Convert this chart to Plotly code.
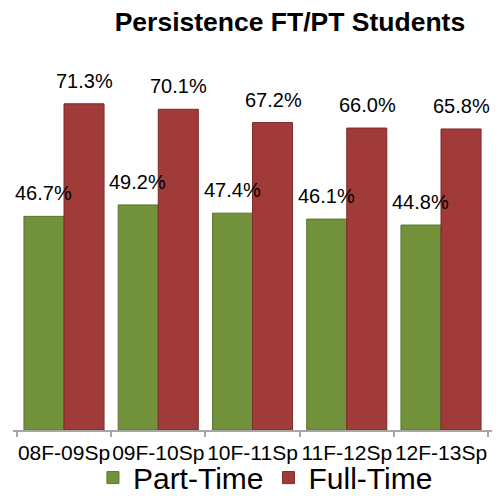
import plotly.graph_objects as go

categories = ["08F-09Sp", "09F-10Sp", "10F-11Sp", "11F-12Sp", "12F-13Sp"]
part_time = [46.7, 49.2, 47.4, 46.1, 44.8]
full_time = [71.3, 70.1, 67.2, 66.0, 65.8]

FONT = "Liberation Sans, Arial, sans-serif"
GREEN = "#71913a"
RED = "#a03b3a"

fig = go.Figure()
fig.add_trace(go.Bar(name="Part-Time", x=categories, y=part_time,
                     marker=dict(color=GREEN, line=dict(color="#5a7530", width=1))))
fig.add_trace(go.Bar(name="Full-Time", x=categories, y=full_time,
                     marker=dict(color=RED, line=dict(color="#7d2a29", width=1))))

for vals, shift in ((part_time, -20.5), (full_time, 20.5)):
    for c, v in zip(categories, vals):
        fig.add_annotation(x=c, y=v, text=f"{v:.1f}%", showarrow=False,
                           xshift=shift, yshift=23, yanchor="middle",
                           font=dict(family=FONT, size=20, color="#000"))

# page body adds an 8px offset; figure sized to fill the visible window
fig.update_layout(
    width=492, height=488,
    margin=dict(l=5, r=8, t=56, b=66, autoexpand=False),
    paper_bgcolor="white", plot_bgcolor="white",
    barmode="group", bargap=0.15, bargroupgap=0,
    title=dict(text="<b>Persistence FT/PT Students</b>", x=0.573, xanchor="center",
               y=0.971, yanchor="middle", font=dict(family=FONT, size=26.5, color="#000")),
    showlegend=True,
    legend=dict(orientation="h", x=0.527, xanchor="center", y=-0.13, yanchor="middle",
                bgcolor="rgba(0,0,0,0)", borderwidth=0,
                font=dict(family=FONT, size=30, color="#000"),
                itemwidth=30, tracegroupgap=0),
    xaxis=dict(showline=True, linecolor="#a6a6a6", linewidth=1.5, ticks="outside",
               tickson="boundaries", ticklen=5, tickcolor="#a6a6a6", tickwidth=1.5,
               tickangle=0, automargin=False, ticklabelstandoff=3,
               tickfont=dict(family=FONT, size=21, color="#000"), showgrid=False),
    yaxis=dict(range=[0, 80], visible=False, showgrid=False, automargin=False),
)

fig.write_html("out.html")
